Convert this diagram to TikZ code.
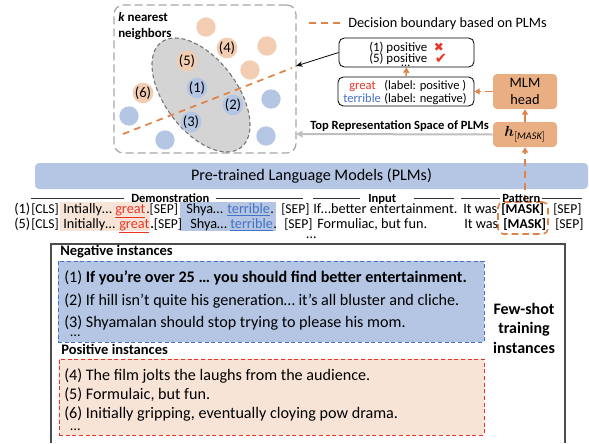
\documentclass[tikz,border=0pt]{standalone}
\usepackage{amsmath}
\usepackage{fontspec}
\setmainfont{Carlito}
\newfontfamily\symbfont{DejaVu Sans}
\usetikzlibrary{arrows.meta}
\definecolor{peach}{RGB}{247,228,215}
\definecolor{peachdot}{RGB}{243,205,178}
\definecolor{bluefill}{RGB}{180,198,228}
\definecolor{headfill}{RGB}{233,175,130}
\definecolor{boundary}{RGB}{224,131,72}
\definecolor{redword}{RGB}{235,51,36}
\definecolor{blueword}{RGB}{68,114,196}
\tikzset{
txt/.style={inner sep=0pt, anchor=base west, font=\fontsize{10.7}{12}\selectfont},
linetxt/.style={inner sep=0pt, anchor=base west, font=\fontsize{12.1}{14}\selectfont},
rowtxt/.style={inner sep=0pt, anchor=base west, font=\fontsize{10.7}{12}\selectfont},
tokentxt/.style={inner sep=0pt, anchor=base west, font=\fontsize{10.2}{12}\selectfont},
small/.style={inner sep=0pt, anchor=base west, font=\fontsize{9.4}{10}\selectfont},
heading/.style={inner sep=0pt, anchor=base west, font=\fontsize{9.4}{10}\selectfont\bfseries},
section/.style={inner sep=0pt, anchor=base west, font=\fontsize{10.9}{12}\selectfont\bfseries},
dot/.style={circle, inner sep=0pt, minimum size=14.5pt, font=\fontsize{11}{12}\selectfont},
orangedot/.style={dot, fill=peachdot},
bluedot/.style={dot, fill=bluefill},
headbox/.style={fill=headfill, rounded corners=3pt, inner sep=0pt, align=center},
resultbox/.style={draw=black, line width=0.6pt, rounded corners=4pt, fill=white, inner sep=0pt},
orangearrow/.style={boundary, line width=1pt, -{Triangle[length=4pt,width=4.5pt]}},
orangedash/.style={boundary, line width=1.3pt, dash pattern=on 5pt off 4pt},
rule/.style={line width=0.7pt, draw=black!80}
}
\begin{document}
\begin{tikzpicture}[x=0.75pt,y=-0.75pt]
\useasboundingbox (0,0) rectangle (589,443);
\node[minimum width=136.5pt, minimum height=111pt, inner sep=0pt, rounded corners=7pt, draw=black!35, line width=0.9pt, dash pattern=on 6pt off 3pt] (space) at (205,79) {};
\node[orangedot] (p1) at (206,27) {};
\node[orangedot] (p2) at (267,46) {};
\node[orangedot] (p3) at (250,70) {};
\node[bluedot] (n1) at (271,99) {};
\node[bluedot] (n2) at (129,116) {};
\node[bluedot] (n3) at (165,140) {};
\node[bluedot] (n4) at (266,136) {};
\node[orangedot] (i4) at (227,48) {(4)};
\node[orangedot] (i6) at (143,93) {(6)};
\draw[fill=black!17, draw=black!55, line width=0.8pt, densely dashed, rotate around={37:(201,95)}] (201,95) ellipse [x radius=36, y radius=66];
\node[orangedot] (i5) at (187,61) {(5)};
\node[bluedot] (i1) at (197,88) {(1)};
\node[bluedot] (i2) at (233,105) {(2)};
\node[bluedot] (i3) at (191,122) {(3)};
\coordinate (bndleft) at (123,134);
\coordinate (bndright) at (292,68);
\draw[orangedash] (bndleft) -- (bndright);
\node[heading, font=\fontsize{9.7}{12}\selectfont\bfseries] (knn1) at (118,21) {\textit{k} nearest};
\node[heading, font=\fontsize{9.7}{12}\selectfont\bfseries] (knn2) at (118,37) {neighbors};
\coordinate (legleft) at (309,23);
\coordinate (legright) at (343,23);
\draw[orangedash] (legleft) -- (legright);
\node[txt] (legend) at (348,27) {Decision boundary based on PLMs};
\node[resultbox, minimum width=101.25pt, minimum height=21.75pt] (result) at (406.5,52.5) {};
\node[small, font=\fontsize{9.65}{10}\selectfont] (res1) at (369,51) {(1) positive};
\node[small, font=\fontsize{9.65}{10}\selectfont] (res5) at (369,62) {(5) positive};
\node[small] (resdots) at (401,66) {…};
\node[inner sep=0pt, text=redword, font=\symbfont\fontsize{9}{10}\selectfont] (cross) at (439,47) {✖};
\node[inner sep=0pt, text=redword, font=\symbfont\fontsize{11}{12}\selectfont] (check) at (441,59) {✔};
\node[resultbox, minimum width=102pt, minimum height=21.75pt] (labels) at (406,91.5) {};
\node[small, text=redword] (great) at (349,89) {great};
\node[small] (posl) at (384,89) {(label: positive )};
\node[small, text=blueword] (terrible) at (343,102) {terrible};
\node[small] (negl) at (384,102) {(label: negative)};
\node[headbox, minimum width=48pt, minimum height=26.25pt, font=\fontsize{10.8}{12.5}\selectfont] (mlm) at (525,91.5) {MLM\\head};
\node[headbox, minimum width=48pt, minimum height=18.75pt, font=\fontsize{11}{12}\selectfont] (hmask) at (525,134.5) {$\boldsymbol{h}_{[\mathit{MASK}]}$};
\draw[orangearrow] (hmask.north) -- (mlm.south);
\draw[orangearrow, dash pattern=on 6pt off 3pt] (mlm.west) -- (labels.east);
\draw[orangearrow] (labels.north) -- (result.south);
\coordinate (spaceend) at (296,134);
\coordinate (knnend) at (296,66);
\draw[black!25, line width=1.5pt, -{Triangle[length=5pt,width=5pt]}] (hmask.west) -- (spaceend);
\draw[line width=0.6pt, -{Stealth[length=5pt,width=4pt]}] (result.west) -- (knnend);
\node[heading] (top) at (310,129) {Top Representation Space of PLMs};
\node[minimum width=414.75pt, minimum height=19.5pt, inner sep=0pt, fill=bluefill, rounded corners=3pt, font=\fontsize{12.1}{14}\selectfont] (plm) at (311.5,176) {Pre-trained Language Models (PLMs)};
\node[minimum width=67.5pt, minimum height=21.75pt, inner sep=0pt, fill=peach] (demopos) at (105,216.5) {};
\node[minimum width=72pt, minimum height=21.75pt, inner sep=0pt, fill=bluefill] (demoneg) at (228,216.5) {};
\node[minimum width=37.5pt, minimum height=24pt, inner sep=0pt, rounded corners=4pt, draw=boundary, line width=1.2pt, dash pattern=on 5pt off 3pt] (mask) at (523,218) {};
\coordinate (maskend) at (525,202);
\draw[orangearrow, dash pattern=on 5pt off 4pt] (maskend) -- (hmask.south);
\draw[rule] (31,198) -- (124,198);
\draw[rule] (216,198) -- (303,198);
\draw[rule] (313,198) -- (360,198);
\draw[rule] (414,198) -- (454,198);
\draw[rule] (461,198) -- (500,198);
\draw[rule] (542,198) -- (582,198);
\node[heading] (demo) at (131,202) {Demonstration};
\node[heading] (input) at (368,202) {Input};
\node[heading] (pattern) at (502,202) {Pattern};
\node[rowtxt] (a1) at (14,213) {(1)};
\node[tokentxt] (a2) at (31,213) {[CLS]};
\node[rowtxt] (a3) at (63,213) {Intially…};
\node[rowtxt, text=redword] (a4) at (115,213) {\underline{great}};
\node[tokentxt] (a5) at (146,213) {.[SEP]};
\node[rowtxt] (a6) at (186,213) {Shya…};
\node[rowtxt, text=blueword] (a7) at (227,213) {\underline{terrible}};
\node[rowtxt] (a8) at (270,213) {.};
\node[tokentxt] (a9) at (281,213) {[SEP]};
\node[rowtxt] (a10) at (313,213) {If…better entertainment.};
\node[rowtxt] (a11) at (463,213) {It was};
\node[tokentxt] (a12) at (501,213) {\textbf{[MASK]}};
\node[tokentxt] (a13) at (553,213) {[SEP]};
\node[rowtxt] (b1) at (14,228) {(5)};
\node[tokentxt] (b2) at (31,228) {[CLS]};
\node[rowtxt] (b3) at (63,228) {Initially…};
\node[rowtxt, text=redword] (b4) at (119,228) {\underline{great}};
\node[tokentxt] (b5) at (150,228) {\textbf{.}[SEP]};
\node[rowtxt] (b6) at (190,228) {Shya…};
\node[rowtxt, text=blueword] (b7) at (230,228) {\underline{terrible}};
\node[rowtxt] (b8) at (273,228) {.};
\node[tokentxt] (b9) at (284,228) {[SEP]};
\node[rowtxt] (b10) at (317,228) {Formuliac, but fun.};
\node[rowtxt] (b11) at (464,228) {It was};
\node[tokentxt] (b12) at (503,228) {\textbf{[MASK]}};
\node[tokentxt] (b13) at (555,228) {[SEP]};
\node[rowtxt] (rowdots) at (306,238) {…};
\draw[line width=0.8pt, draw=black!70] (51,443) -- (51,244) -- (565,244) -- (565,443);
\node[section] (neg) at (60,255) {Negative instances};
\node[minimum width=319.5pt, minimum height=60.75pt, inner sep=0pt, fill=bluefill, draw=blueword, densely dashed, line width=0.6pt] (negbox) at (271,301.5) {};
\node[linetxt] (s1) at (64,282) {(1) \textbf{If you’re over 25 … you should find better entertainment.}};
\node[linetxt] (s2) at (64,305) {(2) If hill isn’t quite his generation… it’s all bluster and cliche.};
\node[linetxt] (s3) at (64,327) {(3) Shyamalan should stop trying to please his mom.};
\node[rowtxt] (negdots) at (70,336) {…};
\node[section] (pos) at (61,354) {Positive instances};
\node[minimum width=318.75pt, minimum height=57pt, inner sep=0pt, fill=peach, draw=redword, densely dashed, line width=0.6pt] (posbox) at (271.5,397) {};
\node[linetxt] (s4) at (64,380) {(4) The film jolts the laughs from the audience.};
\node[linetxt] (s5) at (64,399) {(5) Formulaic, but fun.};
\node[linetxt] (s6) at (64,418) {(6) Initially gripping, eventually cloying pow drama.};
\node[rowtxt] (posdots) at (70,430) {…};
\node[align=center, inner sep=0pt, font=\fontsize{12}{14.6}\selectfont\bfseries] (fewshot) at (524,328) {Few-shot\\training\\instances};
\end{tikzpicture}
\end{document}
